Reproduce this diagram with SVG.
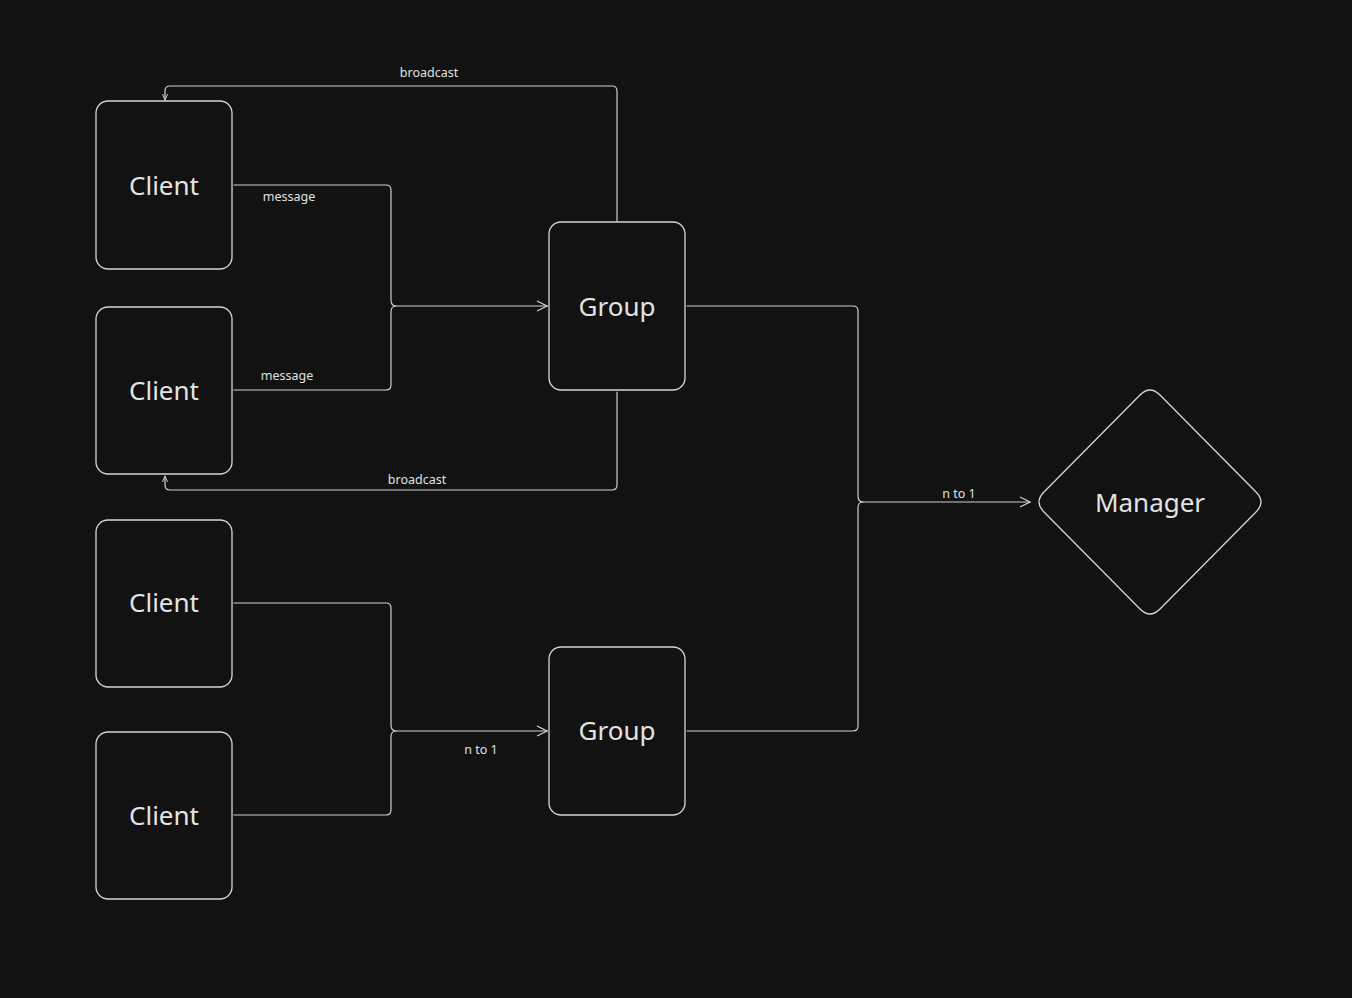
<svg xmlns="http://www.w3.org/2000/svg" width="1352" height="998" viewBox="0 0 1352 998">
<defs>
<style>
.bg{fill:#121212}
.box{fill:#121212;stroke:#d6d6d6;stroke-width:1.3}
.lbl{font-family:"Noto Sans","Lato",sans-serif;font-size:26px;fill:#e3e3e3;text-anchor:middle;dominant-baseline:central}
.edge{fill:none;stroke:#cfcfcf;stroke-width:1.2;stroke-linejoin:round;stroke-linecap:round}
.elbl{font-family:"Noto Sans","Lato",sans-serif;font-size:12.5px;fill:#e0e0e0;text-anchor:middle}
</style>
<marker id="arr" viewBox="0 0 12 12" refX="11" refY="6" markerWidth="12" markerHeight="12" markerUnits="userSpaceOnUse" orient="auto">
<path d="M1,1 L11,6 L1,11" fill="none" stroke="#cfcfcf" stroke-width="1.2"/>
</marker>
<marker id="arrs" viewBox="0 0 8 8" refX="7" refY="4" markerWidth="8" markerHeight="8" markerUnits="userSpaceOnUse" orient="auto">
<path d="M1,1.5 L7,4 L1,6.5" fill="none" stroke="#cfcfcf" stroke-width="1"/>
</marker>
</defs>
<rect class="bg" x="0" y="0" width="1352" height="998"/>

<g id="connectors">
<path class="edge" d="M234,185 H386 Q391,185 391,190 V300 Q391,306 396,306 H547" marker-end="url(#arr)"/>
<path class="edge" d="M234,390 H386 Q391,390 391,385 V312 Q391,306 396,306"/>
<path class="edge" d="M617,221 V91 Q617,86 612,86 H170 Q165,86 165,91 V100" marker-end="url(#arrs)"/>
<path class="edge" d="M617,392 V485 Q617,490 612,490 H170 Q165,490 165,485 V476" marker-end="url(#arrs)"/>
<path class="edge" d="M234,603 H386 Q391,603 391,608 V725 Q391,731 396,731 H547" marker-end="url(#arr)"/>
<path class="edge" d="M234,815 H386 Q391,815 391,810 V737 Q391,731 396,731"/>
<path class="edge" d="M687,306 H853 Q858,306 858,311 V496 Q858,502 863,502 H1030" marker-end="url(#arr)"/>
<path class="edge" d="M687,731 H853 Q858,731 858,726 V508 Q858,502 863,502"/>
<text class="elbl" x="289" y="201">message</text>
<text class="elbl" x="287" y="380">message</text>
<text class="elbl" x="429" y="77">broadcast</text>
<text class="elbl" x="417" y="484">broadcast</text>
<text class="elbl" x="481" y="754">n to 1</text>
<text class="elbl" x="959" y="498">n to 1</text>
</g>

<g id="client1"><rect class="box" x="96" y="101" width="136" height="168" rx="12"/><text class="lbl" x="164" y="185">Client</text></g>
<g id="client2"><rect class="box" x="96" y="307" width="136" height="167" rx="12"/><text class="lbl" x="164" y="390">Client</text></g>
<g id="client3"><rect class="box" x="96" y="520" width="136" height="167" rx="12"/><text class="lbl" x="164" y="602">Client</text></g>
<g id="client4"><rect class="box" x="96" y="732" width="136" height="167" rx="12"/><text class="lbl" x="164" y="815">Client</text></g>
<g id="group1"><rect class="box" x="549" y="222" width="136" height="168" rx="12"/><text class="lbl" x="617" y="306">Group</text></g>
<g id="group2"><rect class="box" x="549" y="647" width="136" height="168" rx="12"/><text class="lbl" x="617" y="730">Group</text></g>
<g id="manager"><path class="box" d="M1140,395 Q1150,385 1160,395 L1256,492 Q1266,502 1256,512 L1160,609 Q1150,619 1140,609 L1044,512 Q1034,502 1044,492 Z"/><text class="lbl" x="1150" y="502">Manager</text></g>
</svg>
